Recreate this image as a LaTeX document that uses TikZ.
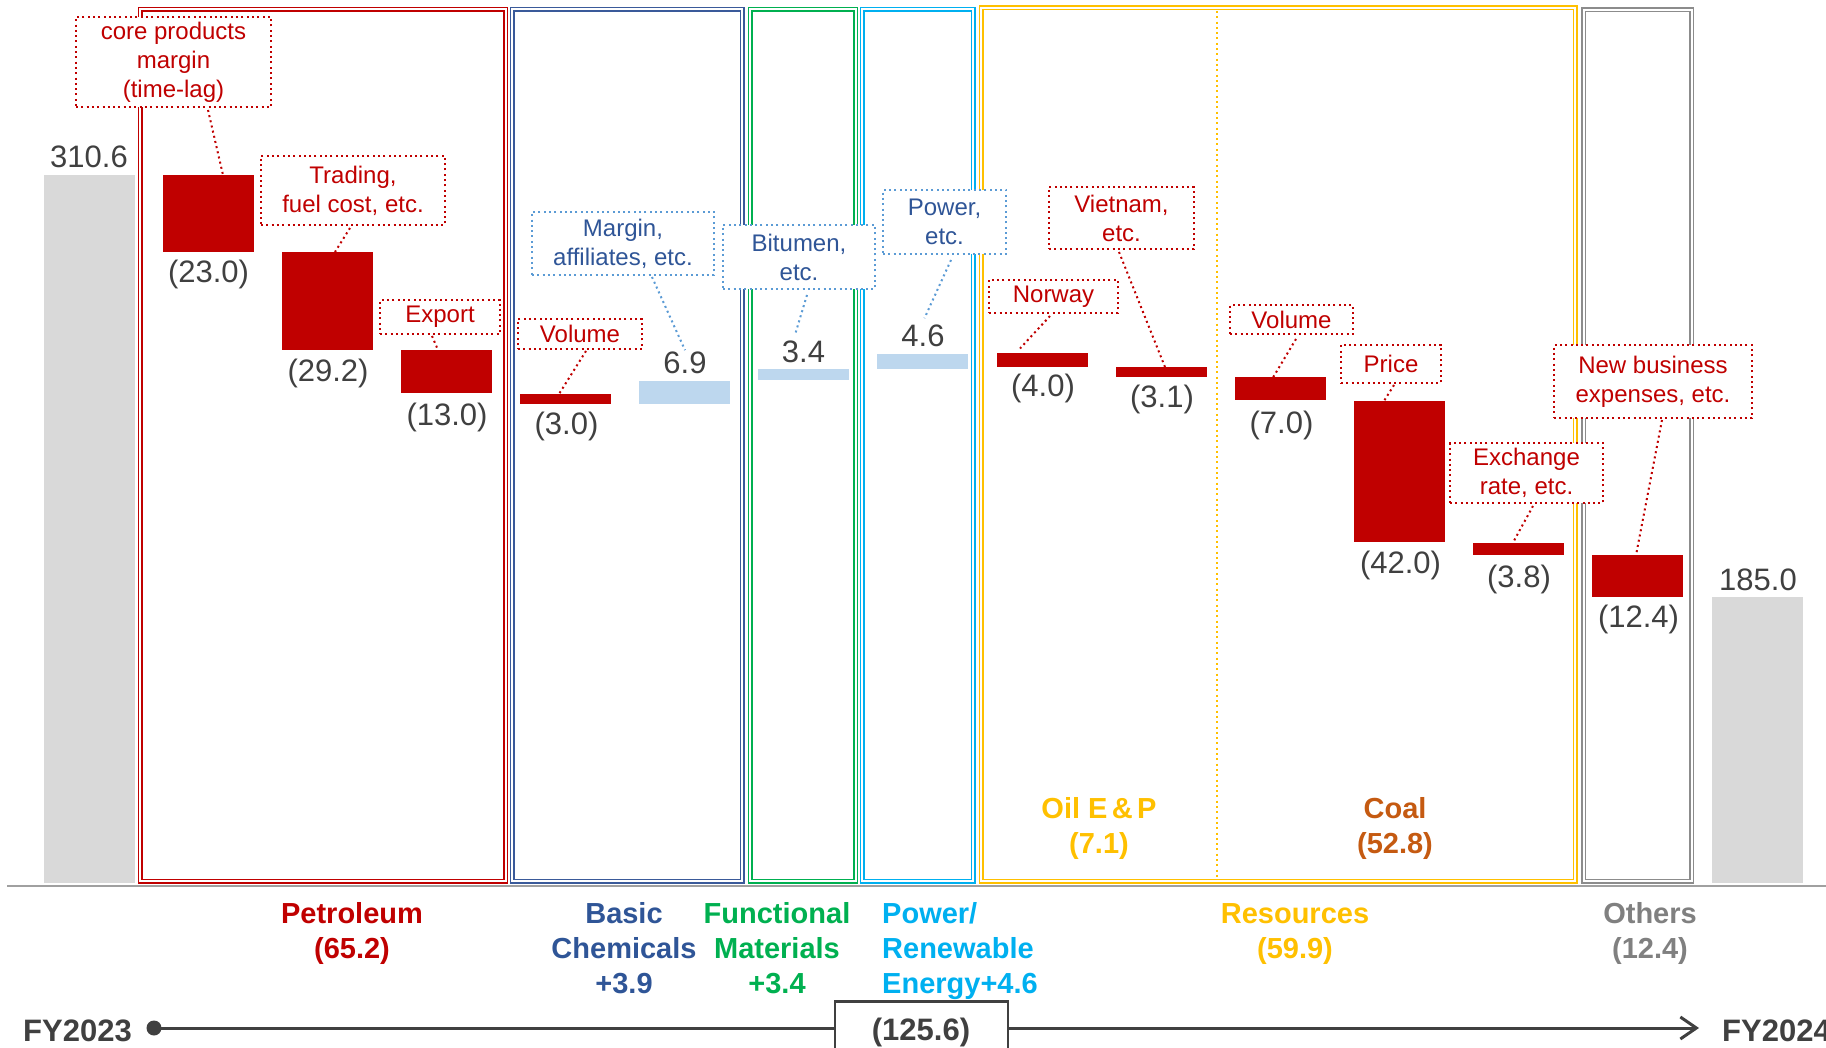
\documentclass[tikz,border=0pt]{standalone}
\usepackage{fontspec}
\setmainfont{Liberation Sans}
\usetikzlibrary{arrows.meta}
\definecolor{cred}{HTML}{C00000}
\definecolor{cblue}{HTML}{2F5597}
\definecolor{cpblue}{HTML}{3A5A9A}
\definecolor{cbluebox}{HTML}{5B9BD5}
\definecolor{cgreen}{HTML}{00B050}
\definecolor{ccyan}{HTML}{00B0F0}
\definecolor{cyellow}{HTML}{FFC000}
\definecolor{corange}{HTML}{C55A11}
\definecolor{cgraytxt}{HTML}{808080}
\definecolor{cgraybox}{HTML}{8C8C8C}
\definecolor{cdark}{HTML}{404040}
\definecolor{cbar}{HTML}{D9D9D9}
\definecolor{clblue}{HTML}{BDD7EE}
\definecolor{caxis}{HTML}{A0A0A0}
\begin{document}
\begin{tikzpicture}[x=1pt,y=-1pt,
  barbox/.style={inner sep=0pt, outer sep=0pt, minimum width=91pt, draw=none},
  redbar/.style={barbox, fill=cred},
  bluebar/.style={barbox, fill=clblue},
  graybar/.style={barbox, fill=cbar},
  num/.style={text=cdark, font=\fontsize{31}{37}\selectfont, anchor=base, inner sep=0pt},
  callr/.style={draw=cred, text=cred, fill=white, line width=2pt, dash pattern=on 2pt off 3.3pt, align=center, font=\fontsize{24}{29}\selectfont, inner sep=0pt},
  callb/.style={callr, draw=cbluebox, text=cblue},
  leadr/.style={draw=cred, line width=2pt, dash pattern=on 2pt off 3.3pt},
  leadb/.style={leadr, draw=cbluebox},
  panel/.style={line width=1.5pt, double=white, double distance=2pt},
  cat/.style={font=\bfseries\fontsize{29}{35}\selectfont, align=center, anchor=base, inner sep=0pt},
  big/.style={font=\bfseries\fontsize{31}{37}\selectfont, text=cdark, inner sep=0pt}
]
\useasboundingbox (0,0) rectangle (1826,1048);
\fill[white] (0,0) rectangle (1826,1048);

% panels
\draw[panel, draw=cred] (140,9.5) rectangle (505.5,881);
\draw[panel, draw=cpblue] (512,9.5) rectangle (742,881);
\draw[panel, draw=cgreen] (750,9.5) rectangle (855.5,881);
\draw[panel, draw=ccyan] (862,9.5) rectangle (973,881);
\draw[panel, draw=cyellow] (981,8) rectangle (1575,881);
\draw[panel, draw=cgraybox] (1583.5,10) rectangle (1691.5,881);
\draw[cyellow, line width=2pt, dash pattern=on 2pt off 3.3pt] (1216.5,11) -- (1216.5,880);

% axis
\coordinate (ax0) at (7,886);
\coordinate (ax1) at (1826,886);
\draw[caxis, line width=2.5pt] (ax0) -- (ax1);

% bars
\node[graybar, minimum height=708pt] (b0) at (89,529) {};
\node[redbar, minimum height=77pt] (b1) at (208,213.5) {};
\node[redbar, minimum height=98pt] (b2) at (327.5,301) {};
\node[redbar, minimum height=43.5pt] (b3) at (446.5,371.75) {};
\node[redbar, minimum height=10pt] (b4) at (565.5,399) {};
\node[bluebar, minimum height=23pt] (b5) at (684.5,392.5) {};
\node[bluebar, minimum height=11pt] (b6) at (803.5,374.5) {};
\node[bluebar, minimum height=15pt] (b7) at (922.5,361.5) {};
\node[redbar, minimum height=13.5pt] (b8) at (1042.5,360.25) {};
\node[redbar, minimum height=10.4pt] (b9) at (1161.5,372.2) {};
\node[redbar, minimum height=23pt] (b10) at (1280.5,389) {};
\node[redbar, minimum height=141pt] (b11) at (1399.5,471.5) {};
\node[redbar, minimum height=12.8pt] (b12) at (1518.5,548.9) {};
\node[redbar, minimum height=41.7pt] (b13) at (1637.5,576.15) {};
\node[graybar, minimum height=286pt] (b14) at (1757.5,740) {};

% value labels
\node[num] (l0) at (89,168) {310.6};
\node[num] (l1) at (208.5,283) {(23.0)};
\node[num] (l2) at (328,382) {(29.2)};
\node[num] (l3) at (447,425) {(13.0)};
\node[num] (l4) at (566.5,435) {(3.0)};
\node[num] (l5) at (685,374) {6.9};
\node[num] (l6) at (803.5,363) {3.4};
\node[num] (l7) at (923,347) {4.6};
\node[num] (l8) at (1043,397) {(4.0)};
\node[num] (l9) at (1162,407) {(3.1)};
\node[num] (l10) at (1281.5,434) {(7.0)};
\node[num] (l11) at (1400.5,573) {(42.0)};
\node[num] (l12) at (1519,587) {(3.8)};
\node[num] (l13) at (1638.5,627) {(12.4)};
\node[num] (l14) at (1758,590) {185.0};

% callouts
\node[callr, minimum width=195pt, minimum height=90pt] (c1) at (173.5,62) {core products\\margin\\(time-lag)};
\node[callr, minimum width=184pt, minimum height=69pt] (c2) at (353,190.5) {Trading,\\fuel cost, etc.};
\node[callr, minimum width=120pt, minimum height=34pt] (c3) at (440,317) {Export};
\node[callr, minimum width=124pt, minimum height=30pt] (c4) at (580,334) {Volume};
\node[callb, minimum width=182pt, minimum height=63pt] (c5) at (623,243.5) {Margin,\\affiliates, etc.};
\node[callb, minimum width=152pt, minimum height=64pt] (c6) at (799,257) {Bitumen,\\etc.};
\node[callb, minimum width=123pt, minimum height=64pt] (c7) at (944.5,222) {Power,\\etc.};
\node[callr, minimum width=129pt, minimum height=33pt] (c8) at (1053.5,296.5) {Norway};
\node[callr, minimum width=145pt, minimum height=62pt] (c9) at (1121.5,218) {Vietnam,\\etc.};
\node[callr, minimum width=123pt, minimum height=29pt] (c10) at (1291.5,319.5) {Volume};
\node[callr, minimum width=100pt, minimum height=38pt] (c11) at (1391,364) {Price};
\node[callr, minimum width=153pt, minimum height=60pt] (c12) at (1526.5,473) {Exchange\\rate, etc.};
\node[callr, minimum width=198pt, minimum height=73pt] (c13) at (1653,381.5) {New business\\expenses, etc.};

% leaders
\draw[leadr] ([xshift=34.5pt,yshift=-2pt]c1.south) -- ([xshift=15pt]b1.north);
\draw[leadr] ([xshift=-3pt,yshift=-2pt]c2.south) -- ([xshift=7.5pt]b2.north);
\draw[leadr] ([xshift=-8pt,yshift=-1pt]c3.south) -- ([xshift=-8.5pt]b3.north);
\draw[leadr] ([xshift=6pt,yshift=-1pt]c4.south) -- ([xshift=-6.5pt]b4.north);
\draw[leadb] ([xshift=29pt,yshift=-1pt]c5.south) -- ([yshift=2pt]l5.north);
\draw[leadb] ([xshift=8pt,yshift=-5pt]c6.south) -- ([xshift=-8pt,yshift=8pt]l6.north);
\draw[leadb] ([xshift=6.5pt,yshift=-5pt]c7.south) -- ([xshift=1.5pt,yshift=7pt]l7.north);
\draw[leadr] ([xshift=-3.5pt,yshift=-2pt]c8.south) -- ([xshift=-22.5pt,yshift=5pt]b8.north);
\draw[leadr] ([xshift=-2.5pt,yshift=-2pt]c9.south) -- ([xshift=3.5pt]b9.north);
\draw[leadr] ([xshift=4.5pt,yshift=-4pt]c10.south) -- ([xshift=-7.5pt]b10.north);
\draw[leadr] ([xshift=3pt,yshift=-1pt]c11.south) -- ([xshift=-15.5pt]b11.north);
\draw[leadr] ([xshift=6.5pt,yshift=-2pt]c12.south) -- ([xshift=-5.5pt]b12.north);
\draw[leadr] ([xshift=9pt,yshift=-1pt]c13.south) -- ([xshift=-1.5pt]b13.north);

% segment labels inside panels (base = last line)
\node[cat, text=cyellow] (oil) at (1099,853) {Oil E\hspace{0.15em}\&\hspace{0.15em}P\\(7.1)};
\node[cat, text=corange] (coal) at (1395,853) {Coal\\(52.8)};

% category labels (base = last line)
\node[cat, text=cred] (pet) at (352,958) {Petroleum\\(65.2)};
\node[cat, text=cblue] (bas) at (624,993) {Basic\\Chemicals\\+3.9};
\node[cat, text=cgreen] (fun) at (777,993) {Functional\\Materials\\+3.4};
\node[cat, text=ccyan, align=left, anchor=base west] (pow) at (882,993) {Power/\\Renewable\\Energy+4.6};
\node[cat, text=cyellow] (res) at (1295,958) {Resources\\(59.9)};
\node[cat, text=cgraytxt] (oth) at (1650,958) {Others\\(12.4)};

% timeline
\node[circle, fill=cdark, minimum size=15pt, inner sep=0pt] (dot) at (154,1028) {};
\coordinate (tend) at (1699,1028);
\draw[cdark, line width=3pt, -{Straight Barb[length=16pt, width=22pt, line width=3pt]}] (dot.center) -- (tend);
\node[draw=cdark, fill=white, line width=1.5pt, minimum width=173pt, minimum height=60pt, anchor=north, inner sep=0pt] (tot) at (921.5,1001) {};
\draw[cdark, line width=3pt] (tot.north west) -- (tot.north east);
\node[big, anchor=base] (totl) at (921,1040) {(125.6)};
\node[big, anchor=base west] (fy1) at (23,1041) {FY2023};
\node[big, anchor=base west] (fy2) at (1722,1041) {FY2024};
\end{tikzpicture}
\end{document}
